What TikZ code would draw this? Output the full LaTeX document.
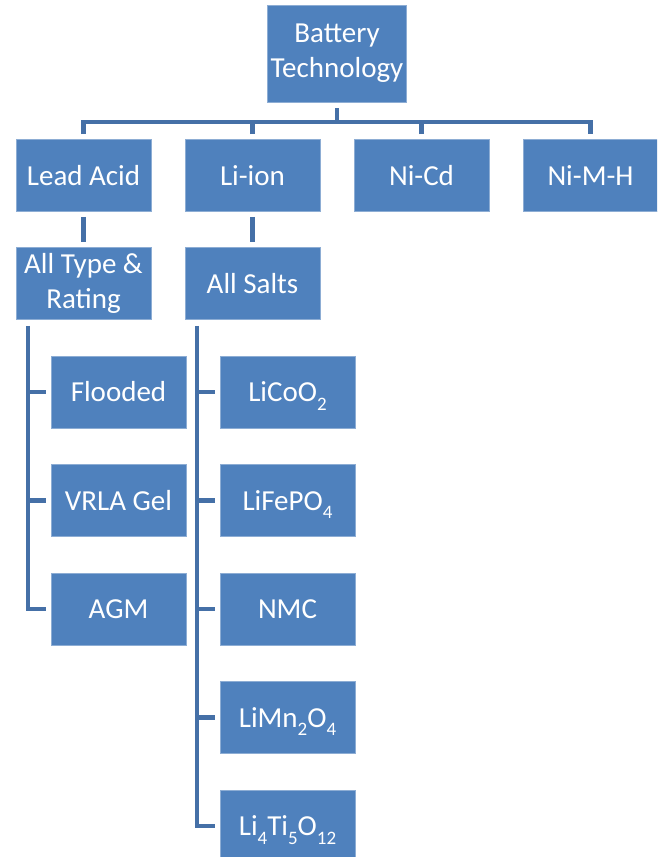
\documentclass[tikz,border=0pt]{standalone}
\usepackage{fontspec}
\setmainfont{Carlito}
\usetikzlibrary{calc}
\definecolor{boxblue}{HTML}{4F81BD}
\definecolor{lineblue}{HTML}{4570A7}
\newcommand{\chemsub}[1]{\raisebox{-8.5pt}[0pt][0pt]{\fontsize{19}{19}\selectfont #1}}
\begin{document}
\begin{tikzpicture}[x=1pt,y=-1pt,
  box/.style={rectangle, fill=boxblue, draw=white!35!boxblue, line width=0.6pt,
    text=white, font=\fontsize{29}{35}\selectfont, align=center,
    minimum width=135pt, minimum height=72pt, inner sep=0pt},
  conn/.style={draw=lineblue, line width=4.5pt, line join=miter}]
\clip (0,0) rectangle (657,857);
\fill[white] (0,0) rectangle (657,857);
% nodes
\node[box, minimum width=139pt, minimum height=97pt] (root) at (337,53.5) {Battery\\Technology};
\node[box] (lead)  at (83.5,175.5) {Lead Acid};
\node[box] (liion) at (252.5,175.5) {Li-ion};
\node[box] (nicd)  at (421.5,175.5) {Ni-Cd};
\node[box] (nimh)  at (590.5,175.5) {Ni-M-H};
\node[box] (alltype)  at (83.5,283.5) {All Type \&\\Rating};
\node[box] (allsalts) at (252.5,283.5) {All Salts};
\node[box] (flooded) at (118.5,392) {Flooded};
\node[box] (vrla)    at (118.5,500.5) {VRLA Gel};
\node[box] (agm)     at (118.5,609) {AGM};
\node[box] (licoo)  at (287.5,392) {LiCoO\chemsub{2}};
\node[box] (lifepo) at (287.5,500.5) {LiFePO\chemsub{4}};
\node[box] (nmc)    at (287.5,609) {NMC};
\node[box] (limn)   at (287.5,717.5) {LiMn\chemsub{2}O\chemsub{4}};
\node[box] (liti)   at (287.5,826) {Li\chemsub{4}Ti\chemsub{5}O\chemsub{12}};
% tree connectors
\coordinate (bar) at (337,122);
\draw[conn] ($(root.south)+(0,6)$) -- (root.south |- bar);
\draw[conn] ($(lead.north)+(0,-5)$) -- (lead.north |- bar) -- (nimh.north |- bar) -- ($(nimh.north)+(0,-5)$);
\draw[conn] ($(liion.north)+(0,-5)$) -- (liion.north |- bar);
\draw[conn] ($(nicd.north)+(0,-5)$) -- (nicd.north |- bar);
\draw[conn] ($(lead.south)+(0,5)$) -- ($(alltype.north)+(0,-5)$);
\draw[conn] ($(liion.south)+(0,5)$) -- ($(allsalts.north)+(0,-5)$);
% rails
\coordinate (lrail) at (28,0);
\coordinate (rrail) at (197,0);
\draw[conn] ($(lrail |- alltype.south)+(0,6)$) |- ($(agm.west)+(-5,0)$);
\draw[conn] (lrail |- flooded.west) -- ($(flooded.west)+(-5,0)$);
\draw[conn] (lrail |- vrla.west) -- ($(vrla.west)+(-5,0)$);
\draw[conn] ($(rrail |- allsalts.south)+(0,6)$) |- ($(liti.west)+(-5,0)$);
\draw[conn] (rrail |- licoo.west) -- ($(licoo.west)+(-5,0)$);
\draw[conn] (rrail |- lifepo.west) -- ($(lifepo.west)+(-5,0)$);
\draw[conn] (rrail |- nmc.west) -- ($(nmc.west)+(-5,0)$);
\draw[conn] (rrail |- limn.west) -- ($(limn.west)+(-5,0)$);
\end{tikzpicture}
\end{document}
